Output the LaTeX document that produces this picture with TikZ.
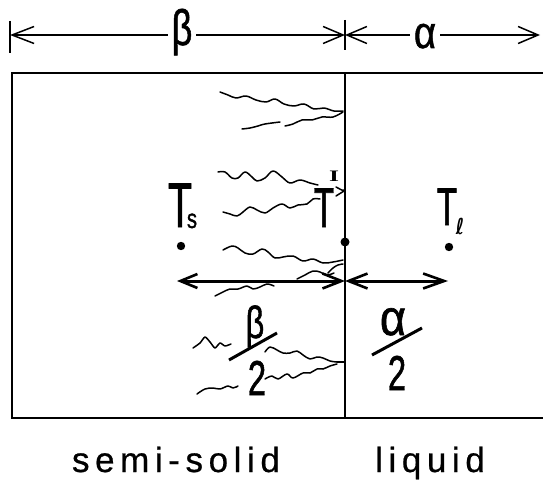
\documentclass[tikz,border=0pt]{standalone}
\usepackage{fontspec}
\setmainfont{Liberation Sans}
\newfontfamily\heavy[FakeBold=1.3]{Liberation Sans}
\newfontfamily\serifI{Liberation Serif}
\newfontfamily\dvs{DejaVu Sans}
\newfontfamily\spaced[LetterSpace=16,FakeBold=0.6]{Liberation Sans}
\usetikzlibrary{arrows.meta}
\newcommand{\mytxt}[3]{{\fontsize{#1}{#1}\heavy\scalebox{#2}[1]{#3}}}
\begin{document}
\begin{tikzpicture}[x=1pt,y=-1pt,
  txt/.style={inner sep=0pt, anchor=base},
  dimline/.style={line width=1.5pt},
  boxline/.style={line width=2.6pt},
  midline/.style={line width=3pt},
  wavy/.style={line width=1.5pt, line join=round, line cap=round}
]
\useasboundingbox (0,0) rectangle (543,481);
\clip (0,0) rectangle (543,481);
\fill[white] (0,0) rectangle (543,481);

% top dimension line
\coordinate (L) at (10,35);
\coordinate (M) at (345,35);
\coordinate (R) at (540,35);
\draw[dimline] (10,21) -- (10,53);
\draw[dimline] (345,20) -- (345,50);
\draw[dimline, {Straight Barb[length=22pt,width=17pt,line width=1.5pt]}-{Straight Barb[length=20pt,width=17pt,line width=1.5pt]}] (L) -- (M);
\draw[dimline, {Straight Barb[length=20pt,width=17pt,line width=1.5pt]}-{Straight Barb[length=20pt,width=17pt,line width=1.5pt]}] (M) -- (R);
\node[txt, fill=white, inner xsep=4pt] (beta) at (182,45) {\mytxt{50}{0.72}{β}};
\node[txt, fill=white, inner xsep=4pt] (alpha) at (425,48) {\mytxt{45}{0.85}{α}};

% box
\draw[boxline] (560,73) -- (12,73) -- (12,418) -- (560,418);
\draw[line width=2.2pt] (345,73) -- (345,418);

% points
\fill (181,246) circle (4.2);
\fill (345,242) circle (4.5);
\fill (449,247) circle (4.2);

% middle arrows
\coordinate (C) at (345,281);
\coordinate (Cl) at (177,281);
\coordinate (Cr) at (448,281);
\draw[midline, {Straight Barb[length=17pt,width=14pt,line width=2.6pt]}-{Straight Barb[length=19pt,width=15pt,line width=2.6pt]}] (Cl) -- (C);
\draw[midline, {Straight Barb[length=19pt,width=15pt,line width=2.6pt]}-{Straight Barb[length=21pt,width=15pt,line width=2.6pt]}] (C) -- (Cr);

% labels T
\node[txt] (Ts) at (180,227) {\mytxt{63}{0.63}{T}};
\node[txt] (Tss) at (192,228) {{\fontsize{27}{27}\heavy\scalebox{0.75}[1]{s}}};
\node[txt] (TI) at (324,227) {\mytxt{56}{0.6}{T}};
\node[txt] (TIs) at (334,182) {{\fontsize{16}{16}\serifI\bfseries\scalebox{1.6}[1]{I}}};
\node[txt] (Tl) at (447,225) {\mytxt{53}{0.63}{T}};
\node[txt] (Tls) at (460,234) {{\fontsize{22}{22}\dvs\bfseries\scalebox{0.8}[1]{ℓ}}};

% fractions
\node[txt] (fb) at (255,338) {\mytxt{45}{0.72}{β}};
\draw[line width=3pt] (229,360) -- (277,333);
\node[txt] (fb2) at (257,395) {\mytxt{49}{0.67}{2}};
\node[txt] (fa) at (393,335) {\mytxt{50}{0.9}{α}};
\draw[line width=3pt] (372,355) -- (422,328);
\node[txt] (fa2) at (397,390) {\mytxt{49}{0.67}{2}};

% bottom texts
\node[txt, text depth=0pt] (semi) at (176,472) {\fontsize{35}{35}\spaced semi-solid};
\node[txt, text depth=0pt] (liq) at (430,472) {\fontsize{35}{35}\spaced liquid};

% wavy lines
\draw[wavy] plot[smooth, tension=0.6] coordinates {(220,92) (228,95) (236,98) (246,96) (256,100) (266,102) (275,99) (284,104) (294,106) (304,104) (314,109) (324,108) (334,111) (343,111)};
\draw[wavy] plot[smooth, tension=0.6] coordinates {(242,129) (250,128) (258,126) (265,124) (280,122)};
\draw[wavy] plot[smooth, tension=0.6] coordinates {(285,126) (293,124) (302,120) (312,120) (322,117) (333,117) (343,112)};
\draw[wavy] plot[smooth, tension=0.6] coordinates {(218,172) (225,172) (232,178) (238,178) (245,172) (252,177) (257,181) (265,178) (273,171) (282,177) (290,183) (300,180) (310,183) (318,185)};
\draw[wavy] (336,187) to[out=-10,in=200] (344,190);
\draw[wavy] (336,196) to[out=20,in=200] (344,191);
\draw[wavy] plot[smooth, tension=0.6] coordinates {(223,212) (230,214) (237,216) (243,212) (250,207) (257,210) (265,213) (273,208) (282,204) (290,208) (298,205) (307,204) (313,199) (320,199)};
\draw[wavy] plot[smooth, tension=0.6] coordinates {(223,250) (232,246) (238,248) (245,253) (253,254) (262,249) (268,252) (275,258) (283,257) (293,256) (303,261) (313,259) (323,263) (333,262) (343,260)};
\draw[wavy] plot[smooth, tension=0.6] coordinates {(297,279) (305,275) (313,271) (320,272) (327,275) (334,273)};
\draw[wavy] plot[smooth, tension=0.6] coordinates {(328,273) (333,268) (338,265) (343,264)};
\draw[wavy] plot[smooth, tension=0.6] coordinates {(215,296) (223,292) (230,289) (238,289) (247,286) (253,289) (260,287) (267,284) (274,286)};
\draw[wavy] plot[smooth, tension=0.4] coordinates {(193,348) (200,343) (205,337) (210,342) (215,348) (220,343) (225,346) (231,344)};
\draw[wavy] plot[smooth, tension=0.6] coordinates {(265,352) (270,347) (277,350) (283,353) (290,353) (297,351) (303,355) (310,359) (317,357) (323,358) (330,361) (337,362)};
\draw[wavy] plot[smooth, tension=0.6] coordinates {(265,379) (272,376) (278,379) (287,374) (293,378) (303,373) (310,373) (317,369) (323,369) (330,366) (337,364)};
\draw[wavy] (337,362) -- (344,362);
\draw[wavy] plot[smooth, tension=0.6] coordinates {(197,394) (205,389) (213,388) (220,389) (228,386) (233,388) (238,386)};
\end{tikzpicture}
\end{document}
